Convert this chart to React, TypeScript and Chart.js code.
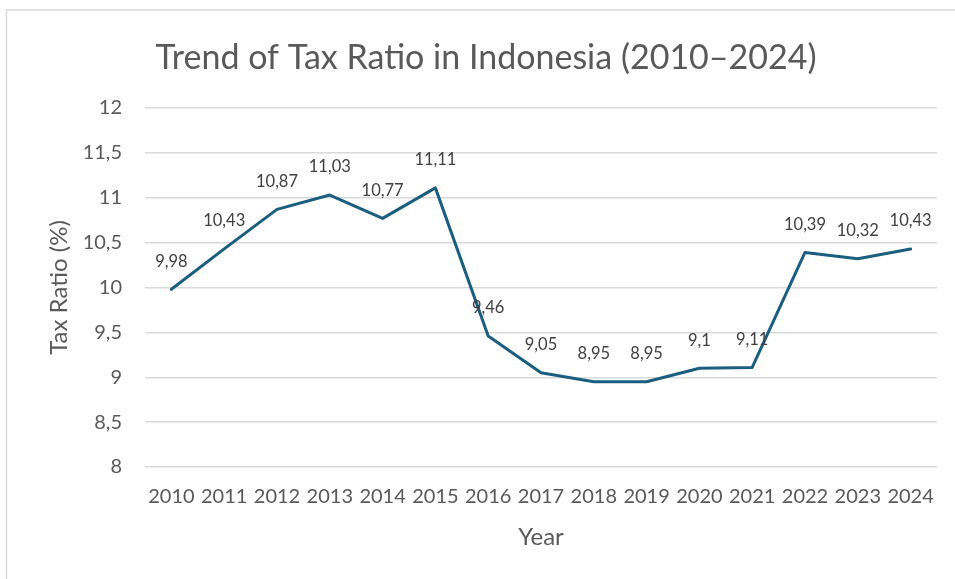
import React, { useEffect, useRef } from "react";
import { Chart, registerables } from "chart.js";

Chart.register(...registerables);

const years: string[] = ["2010", "2011", "2012", "2013", "2014", "2015", "2016", "2017", "2018", "2019", "2020", "2021", "2022", "2023", "2024"];
const taxRatio: number[] = [9.98, 10.43, 10.87, 11.03, 10.77, 11.11, 9.46, 9.05, 8.95, 8.95, 9.1, 9.11, 10.39, 10.32, 10.43];
const yMin = 8;
const yMax = 12;
const yStep = 0.5;
const chartTitle = "Trend of Tax Ratio in Indonesia (2010\u20132024)";

const FONT = "Lato, 'Open Sans', sans-serif";
const fmt = (v: number) => String(v).replace(".", ",");

const frame = {
  id: "frame",
  beforeDraw(chart: any) {
    const ctx = chart.ctx;
    ctx.save();
    ctx.fillStyle = "#ffffff";
    ctx.fillRect(0, 0, chart.width, chart.height);
    ctx.strokeStyle = "#d9d9d9";
    ctx.lineWidth = 1.5;
    ctx.strokeRect(6.5, 10, 2000, 2000);
    ctx.font = `34px ${FONT}`;
    ctx.fillStyle = "#595959";
    ctx.textAlign = "center";
    ctx.textBaseline = "middle";
    ctx.fillText(chartTitle, 486, 58);
    ctx.restore();
  },
};

const dataLabels = {
  id: "dataLabels",
  afterDatasetsDraw(chart: any) {
    const ctx = chart.ctx;
    const meta = chart.getDatasetMeta(0);
    ctx.save();
    ctx.font = `16.5px ${FONT}`;
    ctx.fillStyle = "#404040";
    ctx.textAlign = "center";
    ctx.textBaseline = "middle";
    meta.data.forEach((pt: any, i: number) => {
      ctx.fillText(fmt(taxRatio[i]), pt.x, pt.y - 28);
    });
    ctx.restore();
  },
};

export default function App() {
  const ref = useRef<HTMLCanvasElement | null>(null);
  useEffect(() => {
    if (!ref.current) return;
    const chart = new Chart(ref.current, {
      type: "line",
      data: {
        labels: years,
        datasets: [
          {
            label: "Tax Ratio",
            data: taxRatio,
            borderColor: "#1b5e7f",
            backgroundColor: "#1b5e7f",
            borderWidth: 3,
            pointRadius: 0,
            tension: 0,
            borderCapStyle: "round",
            borderJoinStyle: "round",
          },
        ],
      },
      options: {
        animation: false,
        responsive: false,
        maintainAspectRatio: false,
        devicePixelRatio: 1,
        layout: { padding: { left: 0, right: 18, top: 108, bottom: 0 } },
        plugins: {
          legend: { display: false },
          tooltip: { enabled: false },
          title: { display: false },
        },
        scales: {
          x: {
            offset: true,
            grid: { display: false, drawTicks: false },
            border: { display: false },
            ticks: {
              color: "#595959",
              font: { family: FONT, size: 20 },
              padding: 18,
              maxRotation: 0,
              autoSkip: false,
            },
            title: {
              display: true,
              text: "Year",
              color: "#595959",
              font: { family: FONT, size: 24 },
              padding: { top: 0, bottom: 27 },
            },
            afterFit: (s: any) => {
              s.height = 112;
            },
          },
          y: {
            min: yMin,
            max: yMax,
            grid: { color: "#d9d9d9", lineWidth: 1.5, drawTicks: false },
            border: { display: false },
            ticks: {
              stepSize: yStep,
              color: "#595959",
              font: { family: FONT, size: 20 },
              padding: 23,
              callback: (v: any) => fmt(Number(v)),
            },
            title: {
              display: true,
              text: "Tax Ratio (%)",
              color: "#595959",
              font: { family: FONT, size: 24 },
              padding: { top: 45, bottom: 0 },
            },
            afterFit: (s: any) => {
              s.width = 145;
            },
          },
        },
      },
      plugins: [frame, dataLabels],
    } as any);
    return () => chart.destroy();
  }, []);
  return (
    <div style={{ position: "fixed", left: 0, top: 0, width: 955, height: 579, background: "#fff", overflow: "hidden" }}>
      <canvas ref={ref} width={955} height={579} style={{ display: "block", width: 955, height: 579 }} />
    </div>
  );
}
